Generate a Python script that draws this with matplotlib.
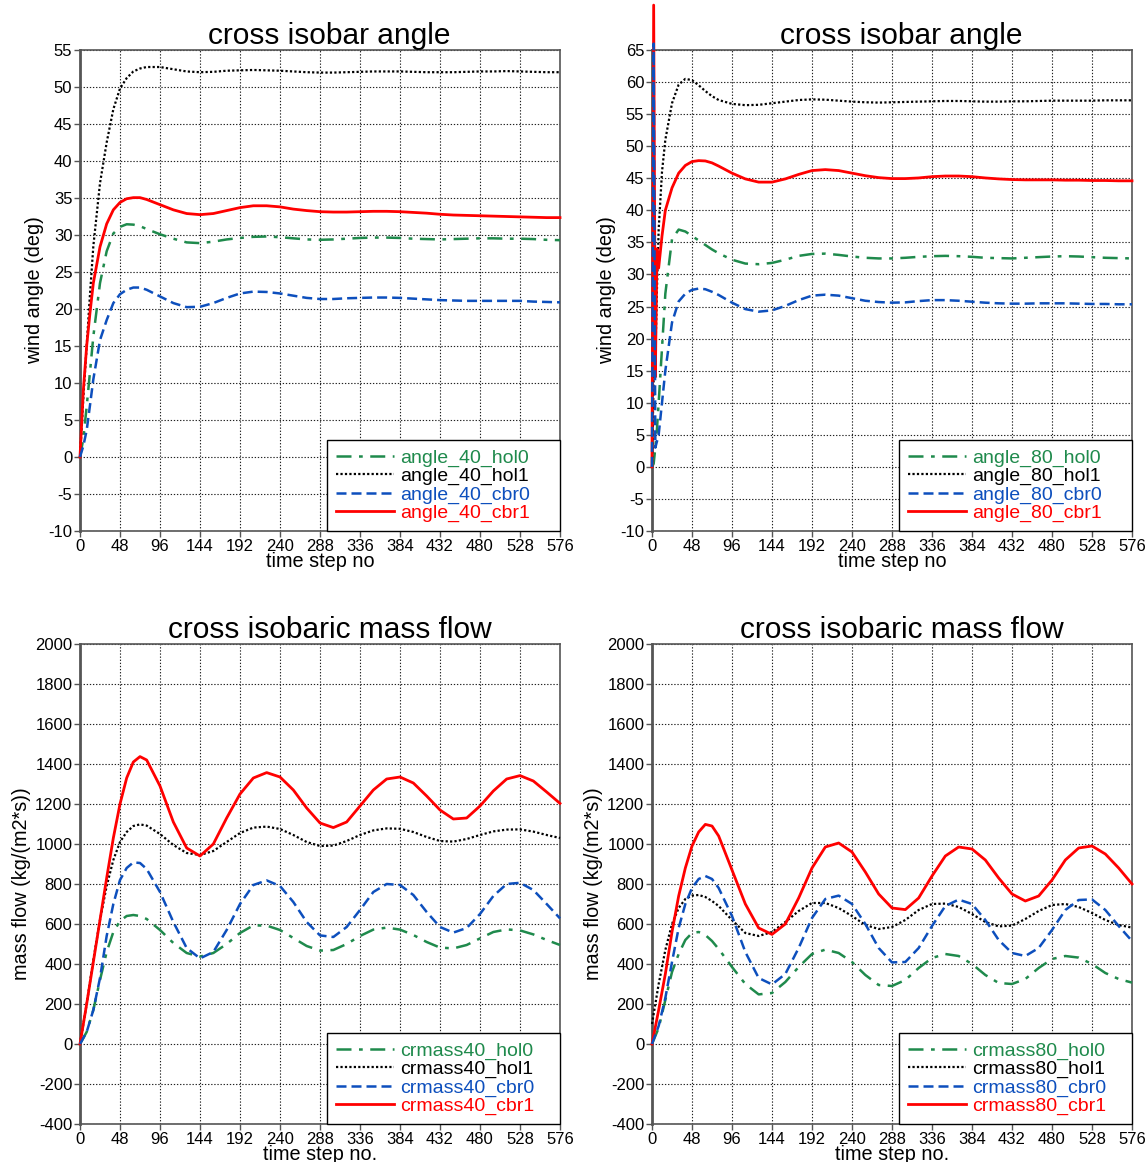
import matplotlib
matplotlib.use("Agg")
import matplotlib.pyplot as plt

plt.rcParams['font.family'] = ['Liberation Sans', 'DejaVu Sans']
plt.rcParams['axes.unicode_minus'] = False

# ---------------- data ----------------
steps_ang40 = [0, 4, 8, 12, 16, 24, 32, 40, 48, 56, 64, 72, 80] + list(range(96, 577, 16))
angle_40_hol0 = [0, 2.5, 6.8, 11.5, 16.3, 23.5, 27.8, 30.2, 31.1, 31.45, 31.4, 31.2, 30.8,
                 30.1, 29.5, 29.0, 28.9, 29.1, 29.4, 29.6, 29.75, 29.8, 29.7, 29.55, 29.4, 29.35, 29.4,
                 29.5, 29.6, 29.65, 29.65, 29.6, 29.5, 29.45, 29.4, 29.45, 29.5, 29.55, 29.55, 29.5,
                 29.5, 29.45, 29.35, 29.3]
angle_40_hol1 = [0, 8, 15, 22, 28.5, 37, 42.5, 47, 49.8, 51.2, 52.1, 52.5, 52.7,
                 52.7, 52.4, 52.1, 52.0, 52.05, 52.2, 52.25, 52.3, 52.25, 52.2, 52.1, 52.0, 51.95, 51.95,
                 52.0, 52.05, 52.1, 52.1, 52.1, 52.05, 52.0, 52.0, 52.0, 52.05, 52.1, 52.1, 52.15,
                 52.1, 52.05, 52.0, 52.0]
angle_40_cbr0 = [0, 1.5, 3.6, 7.0, 10.5, 15.8, 18.5, 20.8, 22.0, 22.6, 22.9, 22.9, 22.6,
                 21.7, 20.8, 20.25, 20.3, 20.8, 21.5, 22.1, 22.35, 22.3, 22.1, 21.8, 21.5, 21.35, 21.35,
                 21.45, 21.5, 21.55, 21.55, 21.5, 21.4, 21.3, 21.2, 21.15, 21.1, 21.1, 21.1, 21.1,
                 21.1, 21.0, 20.95, 20.9]
angle_40_cbr1 = [0, 9, 15, 19.5, 23.5, 28.4, 31.5, 33.4, 34.4, 34.9, 35.05, 35.05, 34.8,
                 34.1, 33.4, 32.9, 32.75, 32.9, 33.3, 33.7, 33.95, 33.95, 33.8, 33.5, 33.3, 33.15, 33.1,
                 33.1, 33.15, 33.2, 33.2, 33.15, 33.05, 32.95, 32.8, 32.7, 32.65, 32.6, 32.55, 32.5,
                 32.45, 32.4, 32.35, 32.35]

steps_ang80 = [0, 2, 4, 6, 8, 12, 16, 24, 32, 40, 48, 56, 64, 72, 80] + list(range(96, 577, 16))
angle_80_hol0 = [0, 0.5, 3, 6, 10, 18.5, 27, 35.5, 37.0, 36.7, 36.0, 35.3, 34.6, 33.9, 33.3,
                 32.3, 31.7, 31.6, 31.8, 32.3, 32.9, 33.2, 33.25, 33.05, 32.8, 32.6, 32.5, 32.5, 32.6,
                 32.75, 32.85, 32.9, 32.85, 32.75, 32.6, 32.55, 32.5, 32.6, 32.7, 32.8, 32.85, 32.8,
                 32.7, 32.6, 32.55, 32.5]
angle_80_hol1 = [0, 14, 17, 28, 37, 46, 51, 56.7, 59.6, 60.5, 60.3, 59.5, 58.6, 57.8, 57.2,
                 56.6, 56.4, 56.45, 56.7, 56.95, 57.2, 57.3, 57.25, 57.1, 56.95, 56.85, 56.8, 56.85, 56.9,
                 56.95, 57.0, 57.05, 57.05, 57.0, 56.95, 56.95, 57.0, 57.0, 57.05, 57.1, 57.1, 57.1,
                 57.1, 57.15, 57.15, 57.15]
angle_80_cbr0 = [0, 66, 3, 4, 5, 10, 15, 22.5, 25.8, 27, 27.6, 27.8, 27.7, 27.3, 26.8,
                 25.6, 24.6, 24.2, 24.4, 25.1, 26.0, 26.7, 26.85, 26.7, 26.3, 25.9, 25.7, 25.6, 25.65,
                 25.85, 26.0, 26.0, 25.9, 25.75, 25.6, 25.5, 25.45, 25.45, 25.5, 25.5, 25.5, 25.45,
                 25.4, 25.4, 25.35, 25.35]
angle_80_cbr1 = [0, 72, 14, 34, 31, 36, 40, 43.5, 45.8, 47, 47.6, 47.75, 47.7, 47.4, 46.9,
                 45.8, 44.9, 44.4, 44.4, 44.9, 45.6, 46.2, 46.35, 46.2, 45.8, 45.4, 45.1, 44.95, 44.95,
                 45.05, 45.25, 45.35, 45.35, 45.25, 45.05, 44.9, 44.8, 44.75, 44.75, 44.75, 44.7, 44.7,
                 44.65, 44.65, 44.6, 44.6]

steps_mass = [0, 8, 16, 24, 32, 40, 48, 56, 64, 72, 80] + list(range(96, 577, 16))
crmass40_hol0 = [0, 60, 170, 320, 460, 560, 615, 640, 645, 640, 625,
                 570, 505, 455, 437, 455, 500, 555, 593, 592, 570, 530, 490, 467, 470, 500, 540,
                 572, 582, 572, 545, 510, 482, 478, 495, 528, 560, 573, 568, 548, 520, 495]
crmass40_hol1 = [0, 200, 420, 620, 790, 920, 1010, 1060, 1090, 1098, 1092,
                 1050, 995, 955, 945, 965, 1010, 1055, 1082, 1087, 1075, 1045, 1010, 990, 992, 1015,
                 1045, 1068, 1078, 1076, 1060, 1035, 1015, 1012, 1025, 1045, 1063, 1072, 1073, 1062,
                 1045, 1030]
crmass40_cbr0 = [0, 60, 170, 330, 540, 700, 820, 880, 908, 905, 875,
                 760, 610, 480, 428, 460, 570, 700, 795, 818, 790, 710, 610, 543, 535, 585, 670,
                 760, 800, 795, 745, 660, 585, 557, 580, 650, 740, 800, 806, 770, 700, 628]
crmass40_cbr1 = [0, 200, 410, 620, 830, 1030, 1200, 1330, 1410, 1437, 1420,
                 1290, 1110, 980, 940, 1000, 1130, 1250, 1330, 1357, 1335, 1270, 1180, 1105, 1082,
                 1110, 1190, 1270, 1325, 1335, 1305, 1240, 1170, 1125, 1130, 1190, 1265, 1325, 1342,
                 1315, 1260, 1203]

crmass80_hol0 = [0, 80, 220, 360, 450, 520, 555, 560, 545, 515, 475,
                 385, 300, 248, 255, 310, 385, 450, 472, 455, 410, 345, 295, 290, 320, 380, 430,
                 450, 440, 400, 345, 305, 300, 325, 380, 425, 440, 432, 400, 355, 325, 307]
crmass80_hol1 = [100, 300, 470, 600, 680, 725, 742, 745, 735, 715, 690,
                 620, 555, 540, 560, 610, 665, 705, 705, 680, 640, 595, 575, 585, 620, 670, 700,
                 702, 685, 650, 610, 588, 592, 625, 665, 695, 700, 685, 655, 620, 595, 582]
crmass80_cbr0 = [0, 90, 230, 410, 580, 700, 780, 825, 840, 825, 780,
                 640, 460, 330, 298, 350, 480, 630, 725, 742, 700, 600, 480, 408, 410, 480, 590,
                 690, 722, 700, 620, 520, 455, 440, 480, 570, 670, 720, 723, 670, 590, 515]
crmass80_cbr1 = [0, 170, 350, 560, 740, 880, 990, 1060, 1098, 1090, 1040,
                 870, 700, 580, 548, 600, 730, 880, 985, 1005, 960, 860, 750, 680, 672, 730, 840,
                 940, 985, 975, 920, 830, 750, 715, 740, 820, 920, 980, 990, 950, 880, 800]

x_ticks = list(range(0, 577, 48))

# ---------------- styles ----------------
GREEN = '#1f8a4c'
BLACK = '#000000'
BLUE = '#0d4fbd'
RED = '#ff0000'
styles = {
    'hol0': dict(color=GREEN, lw=1.8, dashes=(6, 3, 1.5, 3)),
    'hol1': dict(color=BLACK, lw=1.6, dashes=(1, 1)),
    'cbr0': dict(color=BLUE, lw=1.8, dashes=(4, 2)),
    'cbr1': dict(color=RED, lw=2.0, linestyle='-'),
}

W, H = 1147, 1162
fig = plt.figure(figsize=(W / 100, H / 100), dpi=100)


def make_ax(l, r, t, b):
    return fig.add_axes([l / W, 1 - b / H, (r - l) / W, (b - t) / H])


panels = [
    (make_ax(80, 560, 50, 531), steps_ang40,
     [('angle_40_hol0', angle_40_hol0, 'hol0'), ('angle_40_hol1', angle_40_hol1, 'hol1'),
      ('angle_40_cbr0', angle_40_cbr0, 'cbr0'), ('angle_40_cbr1', angle_40_cbr1, 'cbr1')],
     'cross isobar angle', 'wind angle (deg)', 'time step no', (-10, 55), 5),
    (make_ax(652, 1132, 50, 531), steps_ang80,
     [('angle_80_hol0', angle_80_hol0, 'hol0'), ('angle_80_hol1', angle_80_hol1, 'hol1'),
      ('angle_80_cbr0', angle_80_cbr0, 'cbr0'), ('angle_80_cbr1', angle_80_cbr1, 'cbr1')],
     'cross isobar angle', 'wind angle (deg)', 'time step no', (-10, 65), 5),
    (make_ax(80, 560, 644, 1124), steps_mass,
     [('crmass40_hol0', crmass40_hol0, 'hol0'), ('crmass40_hol1', crmass40_hol1, 'hol1'),
      ('crmass40_cbr0', crmass40_cbr0, 'cbr0'), ('crmass40_cbr1', crmass40_cbr1, 'cbr1')],
     'cross isobaric mass flow', 'mass flow (kg/(m2*s))', 'time step no.', (-400, 2000), 200),
    (make_ax(652, 1132, 644, 1124), steps_mass,
     [('crmass80_hol0', crmass80_hol0, 'hol0'), ('crmass80_hol1', crmass80_hol1, 'hol1'),
      ('crmass80_cbr0', crmass80_cbr0, 'cbr0'), ('crmass80_cbr1', crmass80_cbr1, 'cbr1')],
     'cross isobaric mass flow', 'mass flow (kg/(m2*s))', 'time step no.', (-400, 2000), 200),
]

for ax, xs, series, title, ylab, xlab, ylim, ystep in panels:
    handles = {}
    zord = {'hol0': 3, 'hol1': 3.1, 'cbr1': 3.2, 'cbr0': 3.3}
    for name, vals, key in series:
        ln, = ax.plot(xs, vals, label=name, zorder=zord[key], clip_on=False, **styles[key])
        handles[name] = ln
    ax.set_xlim(0, 576)
    ax.set_ylim(*ylim)
    ax.set_xticks(x_ticks)
    ax.set_yticks(list(range(ylim[0], ylim[1] + 1, ystep)))
    ax.grid(True, color='#222222', linestyle=(0, (1.2, 1.6)), linewidth=0.8)
    ax.set_axisbelow(True)
    for sp in ax.spines.values():
        sp.set_color('#555555')
        sp.set_linewidth(1.2)
    ax.spines['left'].set_linewidth(2.0)
    ax.tick_params(direction='out', length=4, width=1, colors='#555555',
                   labelsize=12, labelcolor='black', pad=1.5)
    ax.set_title(title, fontsize=21.5, pad=3, x=0.52)
    ax.set_ylabel(ylab, fontsize=14.3, labelpad=3)
    ax.set_xlabel(xlab, fontsize=14.3, labelpad=-1.5)
    leg = ax.legend([handles[n] for n, _, _ in series], [n for n, _, _ in series],
                    loc='lower left', bbox_to_anchor=(0.5146, 0.0, 0.4854, 0.19),
                    mode='expand', borderaxespad=0, fontsize=14, fancybox=False,
                    framealpha=1, edgecolor='black', handlelength=3.0, handletextpad=0.3,
                    labelspacing=0.04, borderpad=0.45)
    leg.get_frame().set_linewidth(1.0)
    for txt, (_, _, key) in zip(leg.get_texts(), series):
        txt.set_color(styles[key]['color'])

fig.savefig('out.png', dpi=100)
